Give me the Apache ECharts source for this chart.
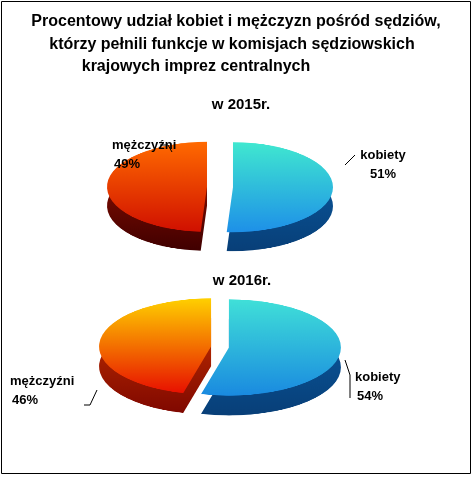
<!DOCTYPE html>
<html><head><meta charset="utf-8">
<script src="https://cdn.jsdelivr.net/npm/echarts@6/dist/echarts.min.js"></script>
<style>
body{margin:0;width:475px;height:477px;position:relative;overflow:hidden;background:#fff}
.p{position:absolute}
</style></head><body>
<div id="a" class="p" style="left:90px;top:67px;width:260px;height:280px;transform-origin:130px 120px;transform:scaleY(0.45)"></div>
<div id="b" class="p" style="left:95px;top:227px;width:250px;height:300px;transform-origin:125px 120px;transform:scaleY(0.43)"></div>
<div id="o" class="p" style="left:0;top:0;width:475px;height:477px"></div>
<script>
const categories = ['kobiety', 'mężczyźni'];
const values2015 = [51, 49];
const values2016 = [54, 46];
const titleLines = ['Procentowy udział kobiet i mężczyzn pośród sędziów,', 'którzy pełnili funkcje w komisjach sędziowskich', 'krajowych imprez centralnych'];
const yearLabels = ['w 2015r.', 'w 2016r.'];

function grad(c1, c2) { return new echarts.graphic.LinearGradient(0, 0, 0, 1, [{offset:0,color:c1},{offset:1,color:c2}]); }
function pieOpt(vals, cx, r, off, depth, top, side) {
  const mk = (cols, cy) => ({
    type:'pie', center:[cx, cy], radius:r, startAngle:90, clockwise:true, selectedMode:'multiple', selectedOffset:off,
    label:{show:false}, labelLine:{show:false}, silent:true, animation:false,
    data: vals.map((v,i)=>({name:categories[i], value:v, selected:true, itemStyle:{color:cols[i]}}))
  });
  return {series:[mk(side, 120+depth), mk(top, 120)]};
}
echarts.init(document.getElementById('a')).setOption(pieOpt(values2015, 130, 100, 13, 42,
  [grad('#40e8d0','#1e90e8'), grad('#ff6a00','#d01000')],
  [grad('#0a5aa0','#083f78'), grad('#901000','#400000')]));
echarts.init(document.getElementById('b')).setOption(pieOpt(values2016, 125, 112, 9, 46,
  [grad('#40e0d8','#1a8ae0'), grad('#ffd000','#e81000')],
  [grad('#0a5aa0','#083f78'), grad('#c03000','#800800')]));

const f = 'bold 16px "Liberation Sans", Arial, sans-serif';
const fy = 'bold 15px "Liberation Sans", Arial, sans-serif';
const fl = 'bold 13px "Liberation Sans", Arial, sans-serif';
const g = [{type:'rect', shape:{x:1.5,y:1.5,width:469,height:472}, style:{fill:'none',stroke:'#000',lineWidth:1}}];
titleLines.forEach((t,i)=>g.push({type:'text', x:[236,232,196][i], y:22+i*22.5, style:{text:t,font:f,fill:'#000',align:'center',verticalAlign:'middle'}}));
g.push({type:'text',x:241,y:105,style:{text:yearLabels[0],font:fy,align:'center',verticalAlign:'middle'}});
g.push({type:'text',x:242,y:281,style:{text:yearLabels[1],font:fy,align:'center',verticalAlign:'middle'}});
function lab(x,y,name,val,align){
  g.push({type:'text',x:x,y:y,style:{text:name,font:fl,align:align,verticalAlign:'middle'}});
  g.push({type:'text',x:x+(align==='left'?2:0),y:y+19,style:{text:val+'%',font:fl,align:align,verticalAlign:'middle'}});
}
lab(112,145,categories[1],values2015[1],'left');
lab(383,155,categories[0],values2015[0],'center');
lab(10,381,categories[1],values2016[1],'left');
lab(355,377,categories[0],values2016[0],'left');
g.push({type:'polyline',shape:{points:[[160,145],[168,145],[172,152]]},style:{stroke:'#000',fill:'none',lineWidth:1}});
g.push({type:'polyline',shape:{points:[[345,165],[355,155]]},style:{stroke:'#000',fill:'none',lineWidth:1}});
g.push({type:'polyline',shape:{points:[[84,405],[90,405],[97,390]]},style:{stroke:'#000',fill:'none',lineWidth:1}});
g.push({type:'polyline',shape:{points:[[345,360],[350,375],[350,398]]},style:{stroke:'#000',fill:'none',lineWidth:1}});
echarts.init(document.getElementById('o')).setOption({graphic:g, animation:false});
</script></body></html>
